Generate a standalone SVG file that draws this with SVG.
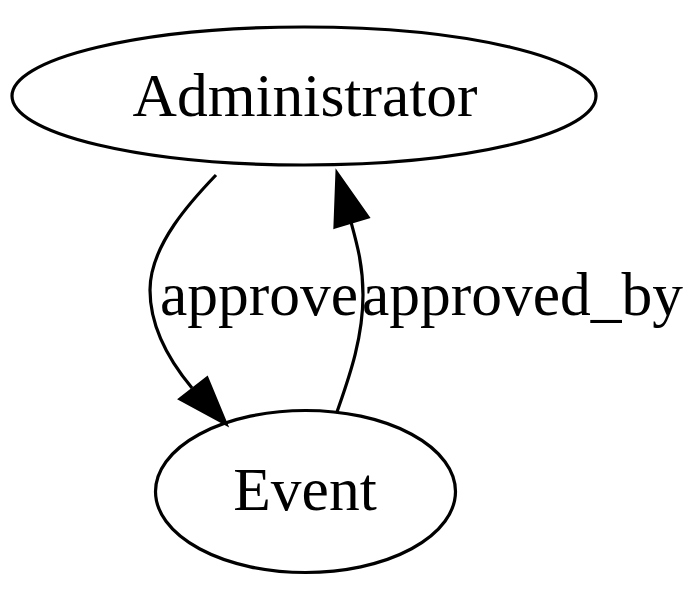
<svg xmlns="http://www.w3.org/2000/svg" width="700" height="589" viewBox="0 0 700 589">
<style>
.node ellipse{fill:none;stroke:#000;stroke-width:3.2}
.edge path{fill:none;stroke:#000;stroke-width:3.2}
.edge polygon{fill:#000;stroke:#000;stroke-width:3.2}
text{font-family:"Liberation Serif","Times New Roman",serif;font-size:61.5px;fill:#000}
</style>
<rect width="700" height="589" fill="#fff"/>
<g id="node-administrator" class="node">
<ellipse cx="304" cy="96" rx="292" ry="69"/>
<text x="305" y="116" text-anchor="middle">Administrator</text>
</g>
<g id="node-event" class="node">
<ellipse cx="305.5" cy="491.5" rx="150" ry="81"/>
<text x="305" y="510" text-anchor="middle">Event</text>
</g>
<g id="connectors" class="edge">
<path d="M216,175 C192,200 150,245 150,290 C150,325 167,358 192,388"/>
<polygon points="180,399 207,378 226,424"/>
<text x="160" y="315">approve</text>
<path d="M337,412 C348,380 363,340 363,295 C363,265 357,244 351,222"/>
<polygon points="335,227 368,217 337,173"/>
<text x="362" y="315">approved_by</text>
</g>
</svg>
